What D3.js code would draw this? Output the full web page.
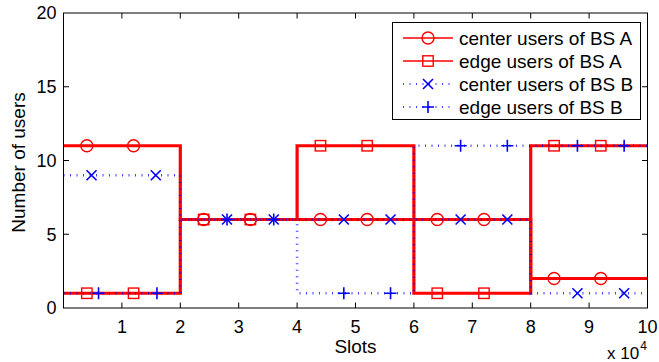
<!DOCTYPE html>
<html>
<head>
<meta charset="utf-8">
<script src="https://cdn.jsdelivr.net/npm/d3@7"></script>
<style>
  body { margin: 0; background: #fff; }
  text { font-family: "Liberation Sans", Arial, Helvetica, sans-serif; fill: #000; }
</style>
</head>
<body>
<div id="chart"></div>
<script>
// step boundaries (x 10^4 slots) and level in each interval
var bounds = [0, 2, 4, 6, 8, 10];
var centerA = [11, 6, 6, 6, 2];
var edgeA = [1, 6, 11, 1, 11];
var centerB = [9, 6, 6, 6, 1];
var edgeB = [1, 6, 1, 11, 11];

// where the markers sit along x
var markA = [0.4, 1.2, 2.4, 3.2, 4.4, 5.2, 6.4, 7.2, 8.4, 9.2];
var markCenterB = [0.48, 1.58, 2.8, 3.6, 4.8, 5.6, 6.8, 7.6, 8.8, 9.6];
var markEdgeB = [0.6, 1.6, 2.8, 3.6, 4.8, 5.6, 6.8, 7.6, 8.8, 9.6];

var xTicks = [1, 2, 3, 4, 5, 6, 7, 8, 9, 10];
var yTicks = [0, 5, 10, 15, 20];

var series = [
  { name: "center users of BS A", levels: centerA, marks: markA, color: "#ff0000", solid: true, marker: "circle" },
  { name: "edge users of BS A", levels: edgeA, marks: markA, color: "#ff0000", solid: true, marker: "square" },
  { name: "center users of BS B", levels: centerB, marks: markCenterB, color: "#0000ff", solid: false, marker: "x" },
  { name: "edge users of BS B", levels: edgeB, marks: markEdgeB, color: "#0000ff", solid: false, marker: "plus" }
];

var W = 659, H = 362;
var svg = d3.select("#chart").append("svg").attr("width", W).attr("height", H);

var x = d3.scaleLinear().domain([0, 10]).range([63.5, 647.5]);
var y = d3.scaleLinear().domain([0, 20]).range([308, 13]);

function levelAt(levels, v) {
  for (var i = 0; i < bounds.length - 1; i++) {
    if (v >= bounds[i] && v < bounds[i + 1]) return levels[i];
  }
  return levels[levels.length - 1];
}

function stepPoints(levels) {
  var pts = [];
  for (var i = 0; i < levels.length; i++) {
    pts.push([bounds[i], levels[i]]);
    pts.push([bounds[i + 1], levels[i]]);
  }
  return pts;
}

var line = d3.line().x(function(d) { return x(d[0]); }).y(function(d) { return y(d[1]); });

function drawMarker(g, type, cx, cy, color) {
  if (type === "circle") {
    g.append("circle").attr("cx", cx).attr("cy", cy).attr("r", 6)
      .attr("fill", "none").attr("stroke", color).attr("stroke-width", 1.4);
  } else if (type === "square") {
    g.append("rect").attr("x", cx - 5.2).attr("y", cy - 5.2).attr("width", 10.4).attr("height", 10.4)
      .attr("fill", "none").attr("stroke", color).attr("stroke-width", 1.4);
  } else if (type === "x") {
    var s = 5;
    g.append("path").attr("d", "M" + (cx - s) + "," + (cy - s) + "L" + (cx + s) + "," + (cy + s) +
      "M" + (cx - s) + "," + (cy + s) + "L" + (cx + s) + "," + (cy - s))
      .attr("stroke", color).attr("stroke-width", 1.6).attr("fill", "none");
  } else {
    var p = 6;
    g.append("path").attr("d", "M" + (cx - p) + "," + cy + "L" + (cx + p) + "," + cy +
      "M" + cx + "," + (cy - p) + "L" + cx + "," + (cy + p))
      .attr("stroke", color).attr("stroke-width", 1.6).attr("fill", "none");
  }
}

var plot = svg.append("g");
series.forEach(function(s) {
  plot.append("path").datum(stepPoints(s.levels)).attr("d", line)
    .attr("fill", "none").attr("stroke", s.color)
    .attr("stroke-width", s.solid ? 3.2 : 2.6)
    .attr("stroke-dasharray", s.solid ? null : "1,5.5")
    .attr("stroke-opacity", s.solid ? 1 : 0.75);
  var mg = plot.append("g");
  s.marks.forEach(function(m) {
    drawMarker(mg, s.marker, x(m), y(levelAt(s.levels, m)), s.color);
  });
});

// axes box with inward ticks on all four sides
var ax = svg.append("g").attr("stroke", "#000").attr("stroke-width", 1).attr("fill", "none");
ax.append("rect").attr("x", x(0)).attr("y", y(20)).attr("width", x(10) - x(0)).attr("height", y(0) - y(20));
var tl = 5.5;
xTicks.filter(function(t) { return t < 10; }).forEach(function(t) {
  ax.append("line").attr("x1", x(t)).attr("x2", x(t)).attr("y1", y(0)).attr("y2", y(0) - tl);
  ax.append("line").attr("x1", x(t)).attr("x2", x(t)).attr("y1", y(20)).attr("y2", y(20) + tl);
});
yTicks.filter(function(t) { return t > 0 && t < 20; }).forEach(function(t) {
  ax.append("line").attr("x1", x(0)).attr("x2", x(0) + tl).attr("y1", y(t)).attr("y2", y(t));
  ax.append("line").attr("x1", x(10)).attr("x2", x(10) - tl).attr("y1", y(t)).attr("y2", y(t));
});

var tickFs = 18, fs = 19;
svg.append("g").selectAll("text").data(xTicks).enter().append("text")
  .attr("x", function(d) { return x(d); }).attr("y", 332.5)
  .attr("text-anchor", "middle").attr("font-size", tickFs).text(function(d) { return d; });
svg.append("g").selectAll("text").data(yTicks).enter().append("text")
  .attr("x", 56.5).attr("y", function(d) { return y(d) + 6.3; })
  .attr("text-anchor", "end").attr("font-size", tickFs).text(function(d) { return d; });

svg.append("text").attr("x", 355.5).attr("y", 353).attr("text-anchor", "middle")
  .attr("font-size", fs).text("Slots");
svg.append("text").attr("transform", "translate(25,162.5) rotate(-90)").attr("text-anchor", "middle")
  .attr("font-size", fs).text("Number of users");

var ex = svg.append("text").attr("x", 607).attr("y", 358.5).attr("font-size", 17);
ex.append("tspan").text("x 10");
ex.append("tspan").attr("font-size", 12).attr("dy", -9).attr("dx", 1).text("4");

// legend
var lg = svg.append("g");
lg.append("rect").attr("x", 392.5).attr("y", 22.5).attr("width", 248).attr("height", 97)
  .attr("fill", "#fff").attr("stroke", "#000").attr("stroke-width", 1);
series.forEach(function(s, i) {
  var ry = 38 + i * 23;
  lg.append("line").attr("x1", 403).attr("x2", 453).attr("y1", ry).attr("y2", ry)
    .attr("stroke", s.color).attr("stroke-width", s.solid ? 1.5 : 2)
    .attr("stroke-dasharray", s.solid ? null : "1,5.5")
    .attr("stroke-opacity", s.solid ? 1 : 0.75);
  drawMarker(lg, s.marker, 428, ry, s.color);
  lg.append("text").attr("x", 459).attr("y", ry + 6.8).attr("font-size", fs).text(s.name);
});
</script>
</body>
</html>
